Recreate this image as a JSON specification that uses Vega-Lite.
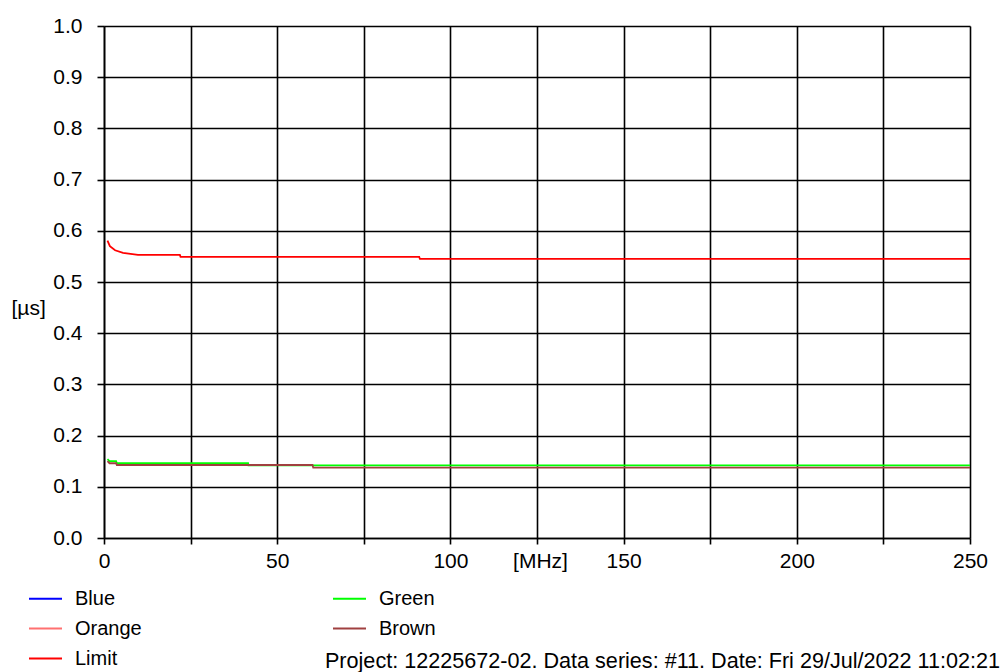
{
  "$schema": "https://vega.github.io/schema/vega-lite/v6.json",
  "autosize": "none",
  "width": 866,
  "height": 512,
  "padding": {"left": 104, "top": 26, "right": 33, "bottom": 134},
  "background": "white",
  "config": {
    "font": "Liberation Sans",
    "view": {"stroke": null},
    "axis": {"labelFont": "Liberation Sans", "titleFont": "Liberation Sans", "labelColor": "black", "titleColor": "black", "labelFontSize": 21, "titleFontSize": 21, "titleFontWeight": "normal", "domainColor": "black", "domainWidth": 1.6, "tickColor": "black", "tickWidth": 1.6, "gridColor": "black", "gridOpacity": 1, "gridWidth": 1.6}
  },
  "title": {
    "text": "Project: 12225672-02. Data series: #11. Date: Fri 29/Jul/2022 11:02:21",
    "orient": "bottom",
    "anchor": "end",
    "frame": "group",
    "dx": 30,
    "offset": -18,
    "font": "Liberation Sans",
    "fontSize": 21.6,
    "fontWeight": "normal",
    "color": "black"
  },
  "data": {
    "values": [
      {"series": "Green", "f": 1, "v": 0.154},
      {"series": "Green", "f": 1.6, "v": 0.150},
      {"series": "Green", "f": 3.5, "v": 0.150},
      {"series": "Green", "f": 3.7, "v": 0.146},
      {"series": "Green", "f": 41.6, "v": 0.146},
      {"series": "Green", "f": 41.7, "v": 0.142},
      {"series": "Green", "f": 250, "v": 0.142},
      {"series": "Brown", "f": 1, "v": 0.150},
      {"series": "Brown", "f": 1.6, "v": 0.146},
      {"series": "Brown", "f": 3.5, "v": 0.146},
      {"series": "Brown", "f": 3.7, "v": 0.1426},
      {"series": "Brown", "f": 60.2, "v": 0.1426},
      {"series": "Brown", "f": 60.4, "v": 0.1373},
      {"series": "Brown", "f": 250, "v": 0.1373},
      {"series": "Limit", "f": 1, "v": 0.581},
      {"series": "Limit", "f": 1.7, "v": 0.570},
      {"series": "Limit", "f": 3.2, "v": 0.562},
      {"series": "Limit", "f": 5.5, "v": 0.557},
      {"series": "Limit", "f": 9.8, "v": 0.553},
      {"series": "Limit", "f": 21.9, "v": 0.553},
      {"series": "Limit", "f": 22.1, "v": 0.549},
      {"series": "Limit", "f": 91, "v": 0.549},
      {"series": "Limit", "f": 91.2, "v": 0.545},
      {"series": "Limit", "f": 250, "v": 0.545}
    ]
  },
  "mark": {"type": "line", "strokeWidth": 1.8, "interpolate": "linear"},
  "encoding": {
    "x": {
      "field": "f", "type": "quantitative",
      "scale": {"domain": [0, 250], "nice": false},
      "axis": {
        "values": [0, 25, 50, 75, 100, 125, 150, 175, 200, 225, 250],
        "labelExpr": "datum.value % 50 == 0 ? datum.label : ''",
        "tickSize": 6, "labelPadding": 6, "labelFlush": false,
        "title": "[MHz]", "titleX": 436, "titleY": 12, "titleBaseline": "top", "titleAlign": "center"
      }
    },
    "y": {
      "field": "v", "type": "quantitative",
      "scale": {"domain": [0, 1], "nice": false},
      "axis": {
        "values": [0, 0.1, 0.2, 0.3, 0.4, 0.5, 0.6, 0.7, 0.8, 0.9, 1.0],
        "format": ".1f",
        "tickSize": 7, "labelPadding": 15, "labelFlush": false,
        "title": "[µs]", "titleAngle": 0, "titleX": -93, "titleY": 282, "titleAlign": "left", "titleBaseline": "middle"
      }
    },
    "color": {
      "field": "series", "type": "nominal",
      "scale": {"domain": ["Blue", "Green", "Orange", "Brown", "Limit"], "range": ["#0000FF", "#00FF00", "#FF7070", "#A04040", "#FF0000"]},
      "legend": {
        "title": null,
        "orient": "none",
        "legendX": -76,
        "legendY": 555,
        "direction": "horizontal",
        "columns": 2,
        "symbolType": "stroke",
        "symbolSize": 1089,
        "symbolStrokeWidth": 2,
        "labelOffset": 12,
        "labelFont": "Liberation Sans",
        "labelFontSize": 20,
        "labelColor": "black",
        "columnPadding": 187,
        "rowPadding": 2
      }
    }
  }
}
